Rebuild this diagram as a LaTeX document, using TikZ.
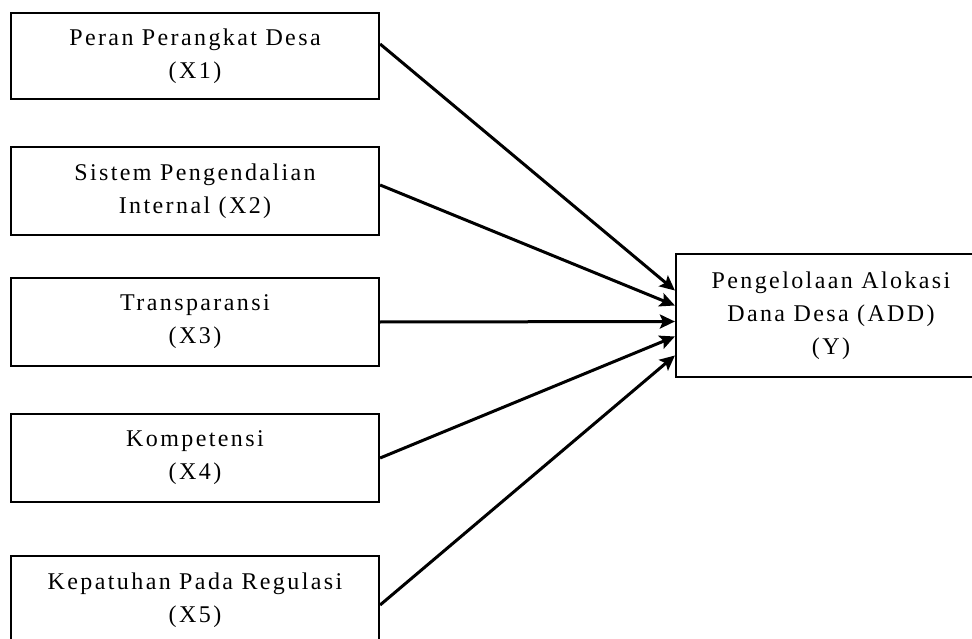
\documentclass[tikz,border=0pt]{standalone}
\usepackage{fontspec}
\setmainfont{Liberation Serif}[LetterSpace=10]
\usetikzlibrary{positioning, arrows.meta}

\begin{document}
\begin{tikzpicture}[x=1pt, y=-1pt,
  var/.style={rectangle, draw, line width=2.2pt, minimum width=368pt,
    minimum height=88pt, align=center, font=\fontsize{24}{33}\selectfont},
  arr/.style={-{Stealth[length=15pt, width=14pt, inset=3pt]}, line width=3pt}]

\clip (0,0) rectangle (972,639);

% independent variables
\node[var, minimum height=86pt] (x1) at (195, 56) {Peran Perangkat Desa\\(X1)};
\node[var] (x2) at (195, 191) {Sistem Pengendalian\\Internal (X2)};
\node[var] (x3) at (195, 322) {Transparansi\\(X3)};
\node[var] (x4) at (195, 458) {Kompetensi\\(X4)};
\node[var] (x5) at (195, 600) {Kepatuhan Pada Regulasi\\(X5)};

% dependent variable
\node[var, minimum width=310pt, minimum height=123pt] (y) at (831, 315.5)
  {Pengelolaan Alokasi\\Dana Desa (ADD)\\(Y)};

\draw[arr] ([yshift=12pt]x1.east) -- ([yshift=25pt]y.west);
\draw[arr] ([yshift=6pt]x2.east) -- ([yshift=10pt]y.west);
\draw[arr] (x3.east) -- ([yshift=-6pt]y.west);
\draw[arr] (x4.east) -- ([yshift=-21pt]y.west);
\draw[arr] ([yshift=-5pt]x5.east) -- ([yshift=-40pt]y.west);

\end{tikzpicture}
\end{document}
